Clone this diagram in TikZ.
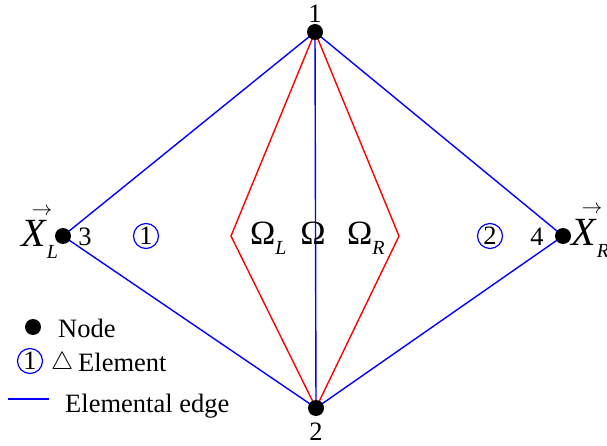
\documentclass[tikz,border=0pt]{standalone}
\usepackage{fontspec}
\setmainfont{Liberation Serif}
\usetikzlibrary{calc,backgrounds}

\newcommand{\bigfont}{\fontsize{34}{38}\selectfont}
\newcommand{\xfont}{\fontsize{40}{44}\selectfont}
\newcommand{\subfont}{\fontsize{20}{22}\selectfont}
% arrow over an italic X with a subscript
\newcommand{\vecx}[1]{\rlap{\hspace{0.26em}\raisebox{0.78em}{\fontsize{22}{22}\selectfont$\rightarrow$}}\textit{X}\raisebox{-0.3em}{\subfont\textit{#1}}}

\begin{document}
\begin{tikzpicture}[x=1pt, y=-1pt,
    every node/.style={font=\fontsize{26.5}{30}\selectfont, inner sep=0pt},
    edge/.style={blue, line width=1.4pt},
    split/.style={red, line width=1.4pt},
    dot/.style={circle, fill=black, minimum size=16pt},
    elem/.style={circle, draw=blue, line width=1.2pt, minimum size=25pt}]
  \useasboundingbox (0,0) rectangle (607,446);

  % Nodes of the mesh
  \node[dot] (n1) at (315,32) {};
  \node[dot] (n2) at (316,408) {};
  \node[dot] (n3) at (63,236) {};
  \node[dot] (n4) at (563,236) {};
  \node (l1) at (315,14) {1};
  \node (l2) at (316,432) {2};
  \node (l3) at (85,237) {3};
  \node (l4) at (537,237) {4};

  \begin{scope}[on background layer]
    % Elemental edges
    \draw[edge] (n1.center) -- (n3.center) -- (n2.center) -- (n4.center) -- cycle;
    % Sub-domains around the shared edge
    \coordinate (omL) at (231,236);
    \coordinate (omR) at (399,236);
    \draw[split] (n1.center) -- (omL) -- (n2.center);
    \draw[split] (n1.center) -- (omR) -- (n2.center);
    \draw[edge] (n1.center) -- (n2.center);
  \end{scope}

  % Element numbers
  \node[elem] (e1) at (146,236) {1};
  \node[elem] (e2) at (490,236) {2};

  % Domain labels
  \node[anchor=base west, font=\bigfont] (wL) at (250,244) {Ω\raisebox{-0.3em}{\subfont\textit{L}}};
  \node[anchor=base, font=\bigfont] (w) at (313,244) {Ω};
  \node[anchor=base west, font=\bigfont] (wR) at (347,244) {Ω\raisebox{-0.3em}{\subfont\textit{R}}};
  \node[anchor=base west, font=\xfont] (xL) at (21,247) {\vecx{L}};
  \node[anchor=base west, font=\xfont] (xR) at (571,245) {\vecx{R}};

  % Legend
  \node[dot] (kn) at (33,327) {};
  \node[anchor=base west] (tn) at (58,337) {Node};
  \node[elem] (ke) at (30,361) {1};
  \node[anchor=base west, font=\fontsize{30}{30}\selectfont] (kt) at (51,369) {$\bigtriangleup$};
  \node[anchor=base west] (te) at (78,371) {Element};
  \coordinate (ka) at (8,399);
  \coordinate (kb) at (49,399);
  \draw[edge] (ka) -- (kb);
  \node[anchor=base west] (tl) at (65,412) {Elemental edge};
\end{tikzpicture}
\end{document}
